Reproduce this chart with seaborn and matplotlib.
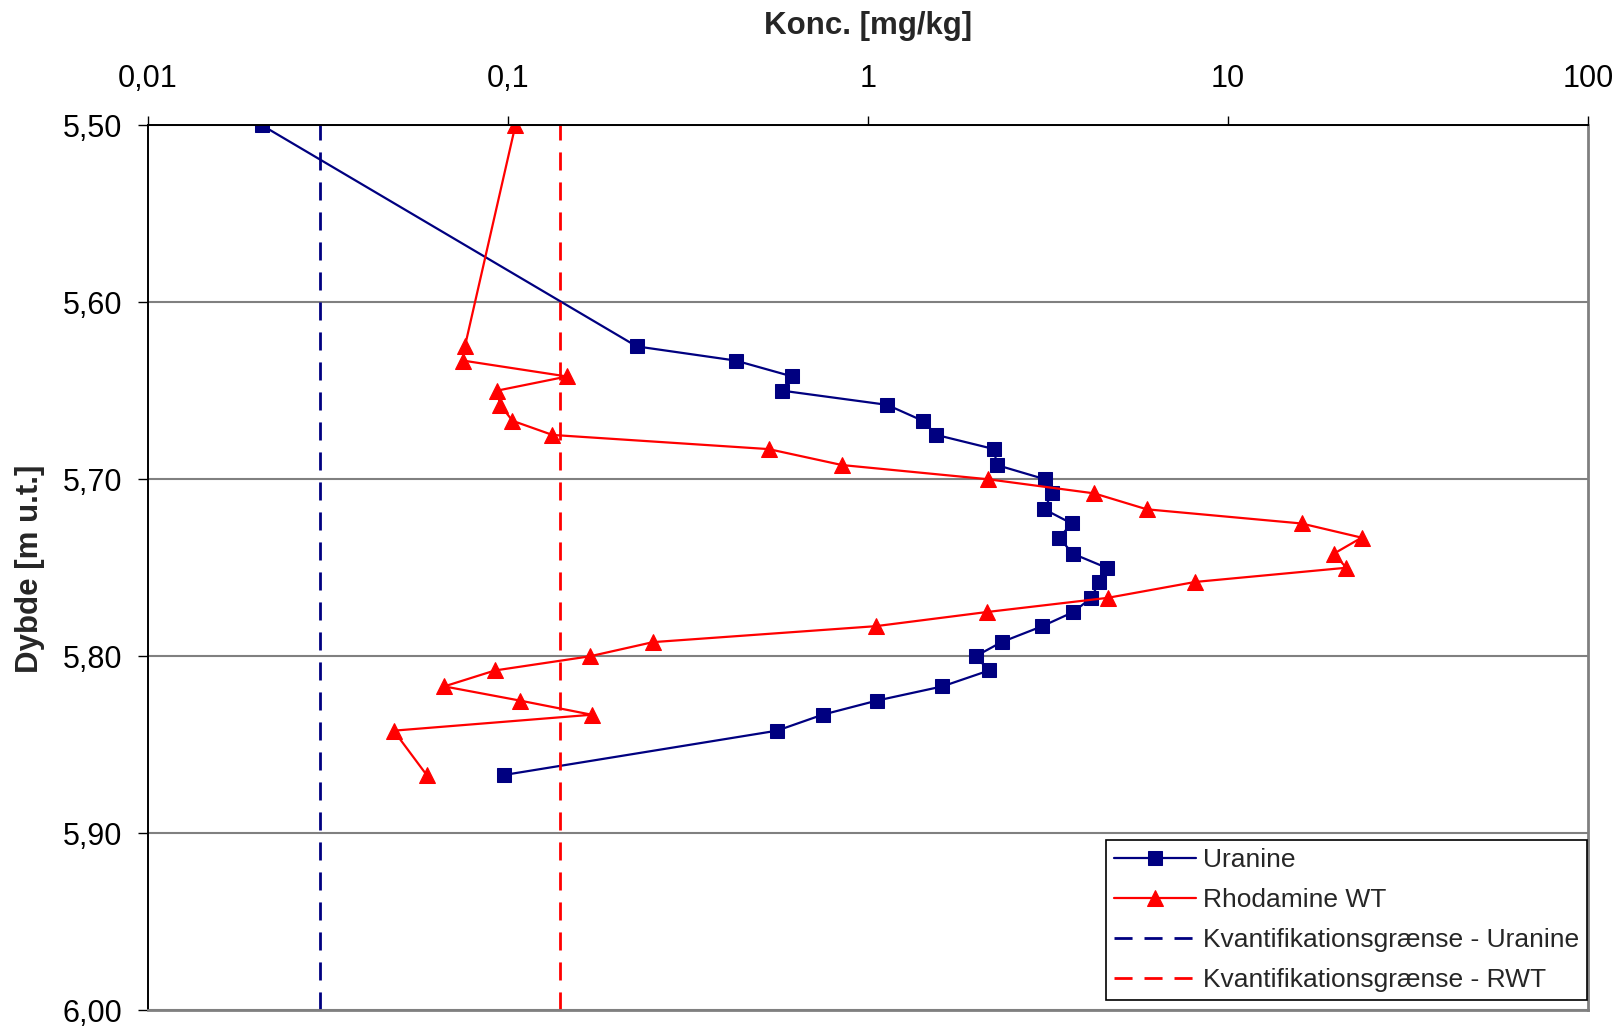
import matplotlib
matplotlib.use("Agg")
import matplotlib.pyplot as plt
from matplotlib.ticker import NullLocator, FixedLocator, FixedFormatter
import seaborn as sns
import pandas as pd

# Sample depths [m u.t.]
depth = [5.500, 5.625, 5.633, 5.642, 5.650, 5.658, 5.667, 5.675, 5.683, 5.692,
         5.700, 5.708, 5.717, 5.725, 5.733, 5.742, 5.750, 5.758, 5.767, 5.775,
         5.783, 5.792, 5.800, 5.808, 5.817, 5.825, 5.833, 5.842, 5.867]

# Concentrations [mg/kg]
uranine = [0.0207, 0.228, 0.429, 0.617, 0.578, 1.13, 1.42, 1.55, 2.24, 2.28,
           3.10, 3.24, 3.09, 3.68, 3.40, 3.70, 4.60, 4.39, 4.17, 3.72,
           3.05, 2.35, 1.99, 2.17, 1.61, 1.06, 0.748, 0.559, 0.0977]
rhodamine = [0.105, 0.0760, 0.0750, 0.146, 0.0933, 0.0952, 0.103, 0.133, 0.530, 0.847,
             2.15, 4.25, 5.95, 16.0, 23.5, 19.7, 21.3, 8.12, 4.63, 2.14,
             1.05, 0.253, 0.169, 0.0921, 0.0666, 0.108, 0.171, 0.0482, 0.0595]

# Quantification limits [mg/kg]
loq_uranine = 0.03
loq_rwt = 0.14

# Axis ticks
conc_ticks = [0.01, 0.1, 1, 10, 100]
conc_tick_labels = ["0,01", "0,1", "1", "10", "100"]
depth_ticks = [5.50, 5.60, 5.70, 5.80, 5.90, 6.00]
depth_tick_labels = ["5,50", "5,60", "5,70", "5,80", "5,90", "6,00"]

series_names = ["Uranine", "Rhodamine WT",
                "Kvantifikationsgrænse - Uranine", "Kvantifikationsgrænse - RWT"]

sns.set_theme(style="white")
plt.rcParams["font.family"] = ["Liberation Sans", "DejaVu Sans"]

fig = plt.figure(figsize=(16.2, 10.29), dpi=100)
ax = fig.add_axes([0.0912, 0.0180, 0.8891, 0.8605])

df_u = pd.DataFrame({"konc": uranine, "dybde": depth})
df_r = pd.DataFrame({"konc": rhodamine, "dybde": depth})

NAVY = "#000080"
RED = "#FF0000"

sns.lineplot(data=df_u, x="konc", y="dybde", sort=False, estimator=None,
             color=NAVY, linewidth=1.6, marker="s", markersize=10.5,
             markeredgecolor=NAVY, markerfacecolor=NAVY, label=series_names[0], ax=ax)
sns.lineplot(data=df_r, x="konc", y="dybde", sort=False, estimator=None,
             color=RED, linewidth=1.6, marker="^", markersize=11,
             markeredgecolor=RED, markerfacecolor=RED, label=series_names[1], ax=ax)

ax.axvline(loq_uranine, color=NAVY, linewidth=2.0, dashes=(6.5, 4.3), label=series_names[2])
ax.axvline(loq_rwt, color=RED, linewidth=2.0, dashes=(6.5, 4.3), label=series_names[3])

ax.set_xscale("log")
ax.set_xlim(0.01, 100)
ax.set_ylim(6.00, 5.50)

ax.xaxis.set_major_locator(FixedLocator(conc_ticks))
ax.xaxis.set_major_formatter(FixedFormatter(conc_tick_labels))
ax.xaxis.set_minor_locator(NullLocator())
ax.xaxis.tick_top()
ax.yaxis.set_major_locator(FixedLocator(depth_ticks))
ax.yaxis.set_major_formatter(FixedFormatter(depth_tick_labels))

ax.tick_params(axis="x", which="major", top=True, bottom=False, labeltop=True,
               labelbottom=False, direction="out", length=6.5, width=1.0,
               pad=15.5, labelsize=22, colors="black")
ax.tick_params(axis="y", which="major", left=True, direction="out", length=7.5,
               width=1.0, pad=11, labelsize=22, colors="black")

ax.grid(False)
ax.yaxis.grid(True, color="#808080", linewidth=1.5)
ax.set_axisbelow(True)

for side in ["left", "top"]:
    ax.spines[side].set_color("black")
    ax.spines[side].set_linewidth(1.4)
for side in ["right", "bottom"]:
    ax.spines[side].set_color("#808080")
    ax.spines[side].set_linewidth(2.0)

ax.set_xlabel("")
ax.set_ylabel("")
fig.text(868 / 1620, 1 - 26 / 1029, "Konc. [mg/kg]", ha="center", va="center",
         fontsize=22.5, fontweight="bold")
fig.text(30 / 1620, 1 - 569 / 1029, "Dybde [m u.t.]", ha="center", va="center",
         rotation=90, fontsize=22.5, fontweight="bold")

handles, labels = ax.get_legend_handles_labels()
leg = ax.legend(handles, labels, loc="upper left",
                bbox_to_anchor=(1106 / 1620, 1 - 840 / 1029),
                bbox_transform=fig.transFigure, borderaxespad=0,
                fontsize=19, frameon=True, fancybox=False, shadow=False,
                handlelength=3.1, handletextpad=0.25, labelspacing=0.6,
                borderpad=0.32, framealpha=1)
leg.get_frame().set_edgecolor("black")
leg.get_frame().set_linewidth(1.2)
leg.set_zorder(10)

fig.savefig("out.png", dpi=100)
